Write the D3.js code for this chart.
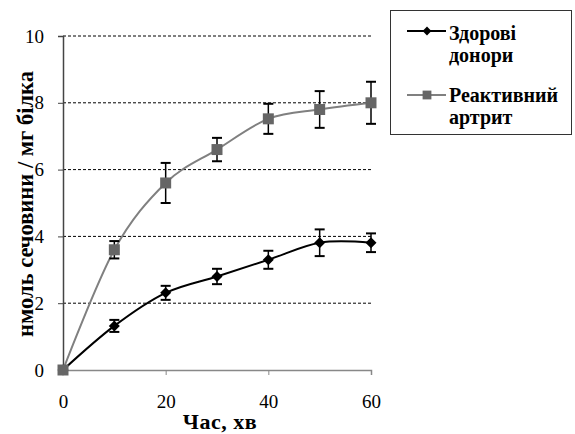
<!DOCTYPE html>
<html>
<head>
<meta charset="utf-8">
<script src="https://cdn.jsdelivr.net/npm/d3@7"></script>
<style>
  body { margin: 0; background: #fff; }
  svg { display: block; }
</style>
</head>
<body>
<div id="vis"></div>
<script>
// chart values
var times = [0, 10, 20, 30, 40, 50, 60];
var healthy = [0, 1.32, 2.31, 2.8, 3.3, 3.81, 3.81];
var healthyErr = [0, 0.18, 0.21, 0.23, 0.27, 0.4, 0.28];
var arthritis = [0, 3.6, 5.6, 6.6, 7.52, 7.8, 8.0];
var arthritisErr = [0, 0.26, 0.6, 0.35, 0.45, 0.55, 0.63];
var xTicks = [0, 20, 40, 60];
var yTicks = [0, 2, 4, 6, 8, 10];
var seriesNames = [['Здорові', 'донори'], ['Реактивний', 'артрит']];
var xTitle = 'Час, хв';
var yTitle = 'нмоль сечовини / мг білка';

var width = 575;
var height = 434;
var serif = 'Liberation Serif';

var svg = d3
  .select('#vis')
  .append('svg')
  .attr('width', width)
  .attr('height', height);

var x = d3.scaleLinear().domain([0, 60]).range([63, 371]);
var y = d3.scaleLinear().domain([0, 10]).range([370, 36]);

// dashed gridlines
svg
  .append('g')
  .selectAll('line')
  .data(yTicks.filter(d => d > 0))
  .enter()
  .append('line')
  .attr('x1', x(0))
  .attr('x2', x(60))
  .attr('y1', d => y(d))
  .attr('y2', d => y(d))
  .style('stroke', '#000')
  .style('stroke-width', 1)
  .style('stroke-dasharray', '3,2');

// y axis
var yAxis = svg
  .append('g')
  .attr('transform', `translate(${x(0)},0)`)
  .call(d3.axisLeft(y).tickValues(yTicks).tickSize(5).tickPadding(14));
yAxis.select('.domain').style('stroke', '#444').style('stroke-width', 1.5);
yAxis.selectAll('.tick line').style('stroke', '#444');
yAxis
  .selectAll('.tick text')
  .style('font-family', serif)
  .style('font-size', '19px')
  .style('fill', '#000');

// x axis
var xAxis = svg
  .append('g')
  .attr('transform', `translate(0,${y(0)})`)
  .call(d3.axisBottom(x).tickValues(xTicks).tickSize(5).tickPadding(20));
xAxis.select('.domain').style('stroke', '#888').style('stroke-width', 1.5);
xAxis.selectAll('.tick line').style('stroke', '#888');
xAxis
  .selectAll('.tick text')
  .style('font-family', serif)
  .style('font-size', '19px')
  .style('fill', '#000');

// axis titles
svg
  .append('text')
  .attr('x', 220)
  .attr('y', 429)
  .attr('text-anchor', 'middle')
  .style('font-family', serif)
  .style('font-weight', 'bold')
  .style('font-size', '22px')
  .style('letter-spacing', '0.5px')
  .text(xTitle);

svg
  .append('text')
  .attr('transform', 'translate(33,204) rotate(-90)')
  .attr('text-anchor', 'middle')
  .style('font-family', serif)
  .style('font-weight', 'bold')
  .style('font-size', '22.5px')
  .text(yTitle);

var line = d3
  .line()
  .x(d => x(d[0]))
  .y(d => y(d[1]))
  .curve(d3.curveCardinal.tension(0));

function drawSeries(values, errs, color, markerColor, marker) {
  var pts = times.map((t, i) => [t, values[i], errs[i]]);
  var g = svg.append('g');
  g.append('path')
    .datum(pts)
    .attr('d', line)
    .style('fill', 'none')
    .style('stroke', color)
    .style('stroke-width', 2);

  var bars = g
    .selectAll('.err')
    .data(pts.filter(d => d[2] > 0))
    .enter()
    .append('g')
    .style('stroke', '#000')
    .style('stroke-width', 1.5);
  bars
    .append('line')
    .attr('x1', d => x(d[0]))
    .attr('x2', d => x(d[0]))
    .attr('y1', d => y(d[1] - d[2]))
    .attr('y2', d => y(d[1] + d[2]));
  bars
    .append('line')
    .attr('x1', d => x(d[0]) - 5)
    .attr('x2', d => x(d[0]) + 5)
    .attr('y1', d => y(d[1] + d[2]))
    .attr('y2', d => y(d[1] + d[2]))
    .style('stroke-width', 2);
  bars
    .append('line')
    .attr('x1', d => x(d[0]) - 5)
    .attr('x2', d => x(d[0]) + 5)
    .attr('y1', d => y(d[1] - d[2]))
    .attr('y2', d => y(d[1] - d[2]))
    .style('stroke-width', 2);

  g.selectAll('.mk')
    .data(pts)
    .enter()
    .append('path')
    .attr('transform', d => `translate(${x(d[0])},${y(d[1])})`)
    .attr('d', marker)
    .style('fill', markerColor);
}

var diamond = 'M0,-5.5L5.5,0L0,5.5L-5.5,0Z';
var square = 'M-5.5,-5.5H5.5V5.5H-5.5Z';

drawSeries(healthy, healthyErr, '#000', '#000', diamond);
drawSeries(arthritis, arthritisErr, '#808080', '#666', square);

// legend
var legend = svg.append('g');
legend
  .append('rect')
  .attr('x', 390.5)
  .attr('y', 10.5)
  .attr('width', 181)
  .attr('height', 124)
  .style('fill', '#fff')
  .style('stroke', '#333')
  .style('stroke-width', 1);

var legendItems = [
  {name: seriesNames[0], color: '#000', markerColor: '#000', marker: diamond, ly: 31, ty: 40},
  {name: seriesNames[1], color: '#808080', markerColor: '#666', marker: square, ly: 95, ty: 102},
];
legendItems.forEach(item => {
  legend
    .append('line')
    .attr('x1', 407)
    .attr('x2', 446)
    .attr('y1', item.ly)
    .attr('y2', item.ly)
    .style('stroke', item.color)
    .style('stroke-width', 2);
  legend
    .append('path')
    .attr('transform', `translate(427,${item.ly}) scale(0.8)`)
    .attr('d', item.marker)
    .style('fill', item.markerColor);
  var t = legend
    .append('text')
    .attr('x', 449)
    .attr('y', item.ty)
    .style('font-family', serif)
    .style('font-weight', 'bold')
    .style('font-size', '20px');
  t.append('tspan').text(item.name[0]);
  t.append('tspan').attr('x', 449).attr('dy', 22).text(item.name[1]);
});
</script>
</body>
</html>
